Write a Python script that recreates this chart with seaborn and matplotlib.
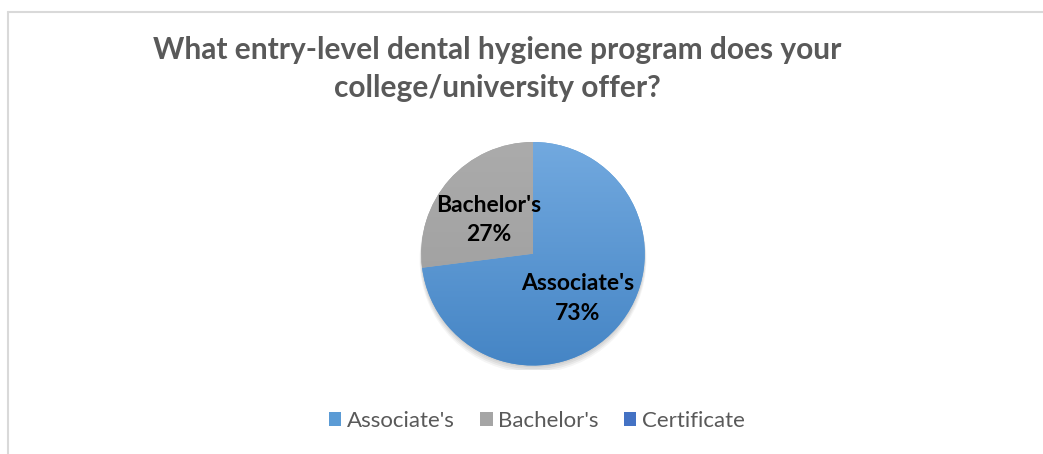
import numpy as np
import matplotlib
matplotlib.use("Agg")
import matplotlib.pyplot as plt
import seaborn as sns
from matplotlib.patches import Patch, Circle
from matplotlib.lines import Line2D

# Survey responses (share of programs, %)
categories = ["Associate's", "Bachelor's", "Certificate"]
shares = [73, 27, 0]
colors = ["#5b9bd5", "#a5a5a5", "#4472c4"]
# top / bottom shading of each slice
shade_top = ["#72a9df", "#ababab", "#5080d0"]
shade_bottom = ["#4585c5", "#9c9c9c", "#3a66b5"]
title = "What entry-level dental hygiene program does your\ncollege/university offer?"

sns.set_theme(style="white")
plt.rcParams["font.family"] = ["Lato", "DejaVu Sans"]

W, H = 1043, 454
fig = plt.figure(figsize=(W / 100, H / 100), dpi=100)
fig.patch.set_facecolor("white")

# chart frame: top and left edges only
fig.add_artist(Line2D([8 / W, 1], [1 - 12 / H, 1 - 12 / H], color="#d9d9d9", lw=1.5))
fig.add_artist(Line2D([8 / W, 8 / W], [0, 1 - 12 / H], color="#d9d9d9", lw=1.5))

fig.text(497 / W, 1 - 69 / H, title, ha="center", va="center",
         fontsize=21.5, fontweight="bold", color="#595959", linespacing=1.42)

# pie axes
r_px = 114
cx, cy = 533, 256
ax = fig.add_axes([(cx - r_px) / W, (H - cy - r_px) / H, 2 * r_px / W, 2 * r_px / H])
ax.set_aspect("equal")
ax.axis("off")

# soft shadow under the pie
for i, a in enumerate([0.05, 0.05, 0.05, 0.04]):
    ax.add_patch(Circle((0.0, -0.015 - 0.012 * i), 1.0 + 0.005 * i, color="black",
                        alpha=a, lw=0, zorder=0))


def fmt(pct):
    idx = int(np.argmin([abs(pct - s) for s in shares]))
    if shares[idx] == 0:
        return ""
    return f"{categories[idx]}\n{shares[idx]}%"


wedges, texts, autotexts = ax.pie(
    shares, colors=colors, startangle=90, counterclock=False, radius=1.0,
    autopct=fmt, pctdistance=0.53,
    wedgeprops=dict(linewidth=0), textprops=dict(fontsize=16.5, fontweight="bold",
                                                 color="black", linespacing=1.5),
)

# vertical gradient shading on the slices
grad = np.linspace(0, 1, 256).reshape(-1, 1)
for w, t_col, b_col in zip(wedges, shade_top, shade_bottom):
    if w.theta2 - w.theta1 < 1e-6:
        continue
    top = np.array(matplotlib.colors.to_rgb(t_col))
    bot = np.array(matplotlib.colors.to_rgb(b_col))
    img = top[None, None, :] * (1 - grad[:, :, None]) + bot[None, None, :] * grad[:, :, None]
    im = ax.imshow(img, extent=[-1, 1, -1, 1], origin="upper", zorder=w.get_zorder() + 0.1,
                   aspect="auto")
    im.set_clip_path(w)
for t in autotexts:
    x, y = t.get_position()
    t.set_position((x, y - 0.05))
    t.set_zorder(10)
ax.set_xlim(-1.02, 1.02)
ax.set_ylim(-1.04, 1.0)

handles = [Patch(facecolor=c, edgecolor="none", label=l) for c, l in zip(colors, categories)]
fig.legend(handles=handles, loc="center", bbox_to_anchor=(537 / W, 1 - 421 / H), ncol=3,
           frameon=False, fontsize=16, labelcolor="#595959", handlelength=0.55,
           handleheight=0.55, handletextpad=0.25, columnspacing=1.15)

fig.savefig("out.png", dpi=100, facecolor="white")
